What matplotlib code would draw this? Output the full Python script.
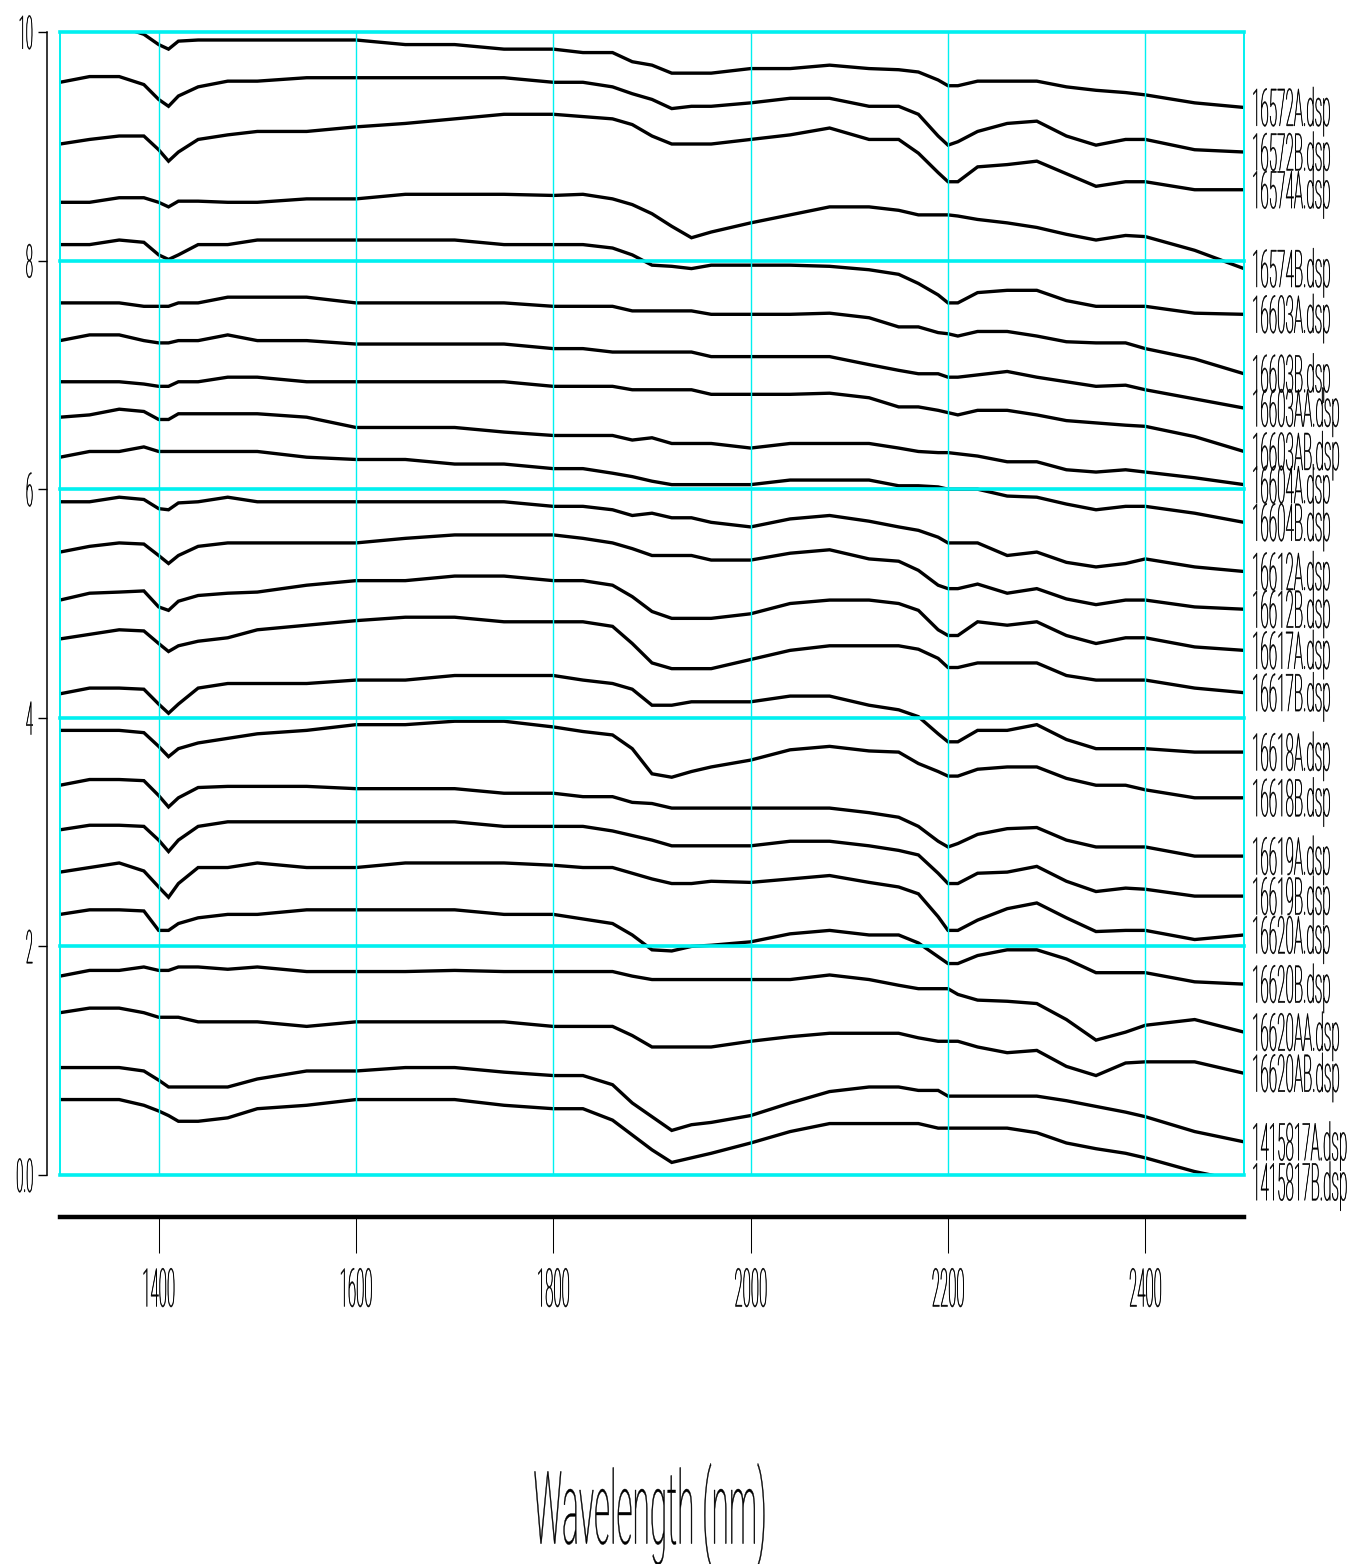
import matplotlib
matplotlib.use('Agg')
import matplotlib.pyplot as plt
from matplotlib import patheffects
from matplotlib.transforms import Affine2D

# wavelength grid (nm) the spectra were read at
wavelength = [1300, 1330, 1360, 1385, 1400, 1410, 1420, 1440, 1470, 1500,
              1550, 1600, 1650, 1700, 1750, 1800, 1830, 1860, 1880, 1900,
              1920, 1940, 1960, 2000, 2040, 2080, 2120, 2150, 2170, 2190,
              2200, 2210, 2230, 2260, 2290, 2320, 2350, 2380, 2400, 2450, 2500]

# offset reflectance spectra, top to bottom
s16572A = [10.06, 10.07, 10.05, 9.98, 9.89, 9.85, 9.92, 9.93, 9.93, 9.93, 9.93, 9.93, 9.89, 9.89, 9.85, 9.85, 9.82, 9.82, 9.74, 9.71, 9.64, 9.64, 9.64, 9.68, 9.68, 9.71, 9.68, 9.67, 9.65, 9.58, 9.53, 9.53, 9.57, 9.57, 9.57, 9.52, 9.49, 9.47, 9.45, 9.38, 9.34]
s16572B = [9.56, 9.61, 9.61, 9.54, 9.41, 9.35, 9.44, 9.52, 9.57, 9.57, 9.60, 9.60, 9.60, 9.60, 9.60, 9.56, 9.56, 9.52, 9.46, 9.41, 9.33, 9.35, 9.35, 9.38, 9.42, 9.42, 9.35, 9.35, 9.28, 9.09, 9.01, 9.04, 9.13, 9.20, 9.22, 9.09, 9.01, 9.06, 9.06, 8.97, 8.95]
s16574A = [9.02, 9.06, 9.09, 9.09, 8.97, 8.87, 8.95, 9.06, 9.10, 9.13, 9.13, 9.17, 9.20, 9.24, 9.28, 9.28, 9.26, 9.24, 9.19, 9.09, 9.02, 9.02, 9.02, 9.06, 9.10, 9.16, 9.06, 9.06, 8.94, 8.77, 8.69, 8.69, 8.82, 8.84, 8.87, 8.76, 8.65, 8.69, 8.69, 8.62, 8.62]
s16574B = [8.51, 8.51, 8.55, 8.55, 8.51, 8.47, 8.52, 8.52, 8.51, 8.51, 8.54, 8.54, 8.58, 8.58, 8.58, 8.57, 8.58, 8.54, 8.49, 8.41, 8.30, 8.20, 8.25, 8.33, 8.40, 8.47, 8.47, 8.44, 8.40, 8.40, 8.40, 8.39, 8.36, 8.33, 8.29, 8.23, 8.18, 8.22, 8.21, 8.09, 7.93]
s16603A = [8.14, 8.14, 8.18, 8.16, 8.05, 8.01, 8.05, 8.14, 8.14, 8.18, 8.18, 8.18, 8.18, 8.18, 8.14, 8.14, 8.14, 8.11, 8.05, 7.96, 7.95, 7.93, 7.96, 7.96, 7.96, 7.95, 7.92, 7.88, 7.80, 7.70, 7.63, 7.63, 7.72, 7.74, 7.74, 7.65, 7.60, 7.60, 7.60, 7.54, 7.53]
s16603B = [7.63, 7.63, 7.63, 7.60, 7.60, 7.60, 7.63, 7.63, 7.68, 7.68, 7.68, 7.63, 7.63, 7.63, 7.63, 7.60, 7.60, 7.60, 7.56, 7.56, 7.56, 7.56, 7.53, 7.53, 7.53, 7.54, 7.50, 7.42, 7.42, 7.37, 7.36, 7.34, 7.38, 7.38, 7.34, 7.29, 7.28, 7.28, 7.23, 7.14, 7.01]
s16603AA = [7.30, 7.35, 7.35, 7.30, 7.28, 7.28, 7.30, 7.30, 7.35, 7.30, 7.30, 7.27, 7.27, 7.27, 7.27, 7.23, 7.23, 7.20, 7.20, 7.20, 7.20, 7.20, 7.16, 7.16, 7.16, 7.16, 7.09, 7.04, 7.01, 7.01, 6.98, 6.98, 7.00, 7.03, 6.98, 6.94, 6.90, 6.91, 6.87, 6.79, 6.71]
s16603AB = [6.94, 6.94, 6.94, 6.92, 6.90, 6.90, 6.94, 6.94, 6.98, 6.98, 6.94, 6.94, 6.94, 6.94, 6.94, 6.90, 6.90, 6.90, 6.87, 6.87, 6.87, 6.87, 6.83, 6.83, 6.83, 6.84, 6.80, 6.72, 6.72, 6.69, 6.67, 6.65, 6.69, 6.69, 6.65, 6.60, 6.58, 6.56, 6.55, 6.46, 6.33]
s16604A = [6.63, 6.65, 6.70, 6.68, 6.61, 6.61, 6.66, 6.66, 6.66, 6.66, 6.63, 6.54, 6.54, 6.54, 6.50, 6.47, 6.47, 6.47, 6.43, 6.45, 6.40, 6.40, 6.40, 6.36, 6.40, 6.40, 6.40, 6.36, 6.33, 6.32, 6.32, 6.31, 6.29, 6.24, 6.24, 6.17, 6.15, 6.17, 6.15, 6.10, 6.04]
s16604B = [6.28, 6.33, 6.33, 6.37, 6.33, 6.33, 6.33, 6.33, 6.33, 6.33, 6.28, 6.26, 6.26, 6.22, 6.22, 6.18, 6.18, 6.14, 6.11, 6.07, 6.04, 6.04, 6.04, 6.04, 6.08, 6.08, 6.08, 6.03, 6.03, 6.02, 6.00, 6.00, 6.00, 5.94, 5.93, 5.87, 5.82, 5.85, 5.85, 5.79, 5.71]
s16612A = [5.89, 5.89, 5.93, 5.91, 5.83, 5.82, 5.88, 5.89, 5.93, 5.89, 5.89, 5.89, 5.89, 5.89, 5.89, 5.85, 5.85, 5.82, 5.77, 5.79, 5.75, 5.75, 5.71, 5.67, 5.74, 5.77, 5.72, 5.67, 5.64, 5.58, 5.53, 5.53, 5.53, 5.42, 5.45, 5.36, 5.32, 5.35, 5.39, 5.32, 5.28]
s16612B = [5.45, 5.50, 5.53, 5.52, 5.42, 5.35, 5.42, 5.50, 5.53, 5.53, 5.53, 5.53, 5.57, 5.60, 5.60, 5.60, 5.57, 5.53, 5.48, 5.42, 5.42, 5.42, 5.38, 5.38, 5.44, 5.47, 5.39, 5.37, 5.29, 5.16, 5.13, 5.13, 5.17, 5.09, 5.13, 5.04, 4.99, 5.03, 5.03, 4.97, 4.95]
s16617A = [5.03, 5.09, 5.10, 5.11, 4.97, 4.94, 5.02, 5.07, 5.09, 5.10, 5.16, 5.20, 5.20, 5.24, 5.24, 5.20, 5.20, 5.16, 5.06, 4.93, 4.87, 4.87, 4.87, 4.91, 5.00, 5.03, 5.03, 5.00, 4.94, 4.77, 4.72, 4.72, 4.84, 4.81, 4.84, 4.72, 4.65, 4.70, 4.70, 4.62, 4.59]
s16617B = [4.69, 4.73, 4.77, 4.76, 4.65, 4.58, 4.63, 4.67, 4.70, 4.77, 4.81, 4.85, 4.88, 4.88, 4.84, 4.84, 4.84, 4.80, 4.65, 4.48, 4.43, 4.43, 4.43, 4.51, 4.59, 4.63, 4.63, 4.63, 4.60, 4.52, 4.44, 4.44, 4.48, 4.48, 4.48, 4.37, 4.33, 4.33, 4.33, 4.26, 4.22]
s16618A = [4.21, 4.26, 4.26, 4.25, 4.12, 4.04, 4.12, 4.26, 4.30, 4.30, 4.30, 4.33, 4.33, 4.37, 4.37, 4.37, 4.33, 4.30, 4.25, 4.11, 4.11, 4.14, 4.14, 4.14, 4.19, 4.19, 4.11, 4.07, 4.01, 3.86, 3.79, 3.79, 3.89, 3.89, 3.94, 3.81, 3.73, 3.73, 3.73, 3.70, 3.70]
s16618B = [3.89, 3.89, 3.89, 3.87, 3.75, 3.66, 3.73, 3.78, 3.82, 3.86, 3.89, 3.94, 3.94, 3.97, 3.97, 3.92, 3.88, 3.85, 3.73, 3.51, 3.48, 3.53, 3.57, 3.63, 3.72, 3.75, 3.71, 3.70, 3.60, 3.53, 3.49, 3.49, 3.55, 3.57, 3.57, 3.47, 3.41, 3.41, 3.37, 3.30, 3.30]
s16619A = [3.41, 3.46, 3.46, 3.45, 3.32, 3.22, 3.30, 3.39, 3.40, 3.40, 3.40, 3.38, 3.38, 3.38, 3.34, 3.34, 3.31, 3.31, 3.26, 3.25, 3.21, 3.21, 3.21, 3.21, 3.21, 3.21, 3.17, 3.13, 3.05, 2.92, 2.87, 2.90, 2.98, 3.03, 3.04, 2.93, 2.87, 2.87, 2.87, 2.79, 2.79]
s16619B = [3.02, 3.06, 3.06, 3.05, 2.93, 2.83, 2.93, 3.05, 3.09, 3.09, 3.09, 3.09, 3.09, 3.09, 3.05, 3.05, 3.05, 3.01, 2.97, 2.93, 2.88, 2.88, 2.88, 2.88, 2.92, 2.92, 2.88, 2.84, 2.80, 2.64, 2.55, 2.55, 2.64, 2.65, 2.70, 2.57, 2.48, 2.51, 2.50, 2.44, 2.44]
s16620A = [2.65, 2.69, 2.73, 2.66, 2.52, 2.43, 2.55, 2.69, 2.69, 2.73, 2.69, 2.69, 2.73, 2.73, 2.73, 2.71, 2.69, 2.69, 2.64, 2.59, 2.55, 2.55, 2.57, 2.56, 2.59, 2.62, 2.56, 2.52, 2.46, 2.26, 2.14, 2.14, 2.23, 2.33, 2.38, 2.25, 2.13, 2.14, 2.14, 2.06, 2.10]
s16620B = [2.28, 2.32, 2.32, 2.31, 2.14, 2.14, 2.20, 2.25, 2.28, 2.28, 2.32, 2.32, 2.32, 2.32, 2.28, 2.28, 2.24, 2.20, 2.10, 1.97, 1.96, 2.00, 2.01, 2.04, 2.11, 2.14, 2.10, 2.10, 2.03, 1.91, 1.85, 1.85, 1.92, 1.97, 1.97, 1.89, 1.77, 1.77, 1.77, 1.69, 1.67]
s16620AA = [1.74, 1.79, 1.79, 1.82, 1.79, 1.79, 1.82, 1.82, 1.80, 1.82, 1.78, 1.78, 1.78, 1.79, 1.78, 1.78, 1.78, 1.78, 1.74, 1.71, 1.71, 1.71, 1.71, 1.71, 1.71, 1.75, 1.71, 1.66, 1.63, 1.63, 1.63, 1.58, 1.53, 1.52, 1.50, 1.36, 1.18, 1.25, 1.31, 1.36, 1.25]
s16620AB = [1.42, 1.46, 1.46, 1.42, 1.38, 1.38, 1.38, 1.34, 1.34, 1.34, 1.30, 1.34, 1.34, 1.34, 1.34, 1.30, 1.30, 1.30, 1.22, 1.12, 1.12, 1.12, 1.12, 1.17, 1.21, 1.24, 1.24, 1.24, 1.20, 1.17, 1.17, 1.17, 1.12, 1.07, 1.09, 0.95, 0.87, 0.98, 0.99, 0.99, 0.89]
s1415817A = [0.94, 0.94, 0.94, 0.91, 0.83, 0.77, 0.77, 0.77, 0.77, 0.84, 0.91, 0.91, 0.94, 0.94, 0.90, 0.87, 0.87, 0.79, 0.63, 0.51, 0.39, 0.44, 0.46, 0.52, 0.63, 0.73, 0.77, 0.77, 0.74, 0.74, 0.69, 0.69, 0.69, 0.69, 0.69, 0.65, 0.60, 0.55, 0.51, 0.38, 0.29]
s1415817B = [0.66, 0.66, 0.66, 0.61, 0.56, 0.52, 0.47, 0.47, 0.50, 0.58, 0.61, 0.66, 0.66, 0.66, 0.61, 0.58, 0.58, 0.48, 0.35, 0.22, 0.11, 0.15, 0.19, 0.28, 0.38, 0.45, 0.45, 0.45, 0.45, 0.41, 0.41, 0.41, 0.41, 0.41, 0.37, 0.28, 0.23, 0.19, 0.15, 0.03, -0.06]

names = ['16572A.dsp', '16572B.dsp', '16574A.dsp', '16574B.dsp', '16603A.dsp',
         '16603B.dsp', '16603AA.dsp', '16603AB.dsp', '16604A.dsp', '16604B.dsp',
         '16612A.dsp', '16612B.dsp', '16617A.dsp', '16617B.dsp', '16618A.dsp',
         '16618B.dsp', '16619A.dsp', '16619B.dsp', '16620A.dsp', '16620B.dsp',
         '16620AA.dsp', '16620AB.dsp', '1415817A.dsp', '1415817B.dsp']
spectra = [s16572A, s16572B, s16574A, s16574B, s16603A, s16603B, s16603AA,
           s16603AB, s16604A, s16604B, s16612A, s16612B, s16617A, s16617B,
           s16618A, s16618B, s16619A, s16619B, s16620A, s16620B, s16620AA,
           s16620AB, s1415817A, s1415817B]

xticks = [1400, 1600, 1800, 2000, 2200, 2400]
yticks = [0, 2, 4, 6, 8, 10]
ytick_labels = ['0.0', '2', '4', '6', '8', '10']

FONT = 'Roboto'


class Tall(patheffects.AbstractPathEffect):
    # stretch glyphs vertically about mid cap height, add a thin outline
    # (the old plot had tall, squeezed lettering)
    def __init__(self, sy=3.55, stroke=0.35):
        super().__init__()
        self.sy = sy
        self.stroke = stroke

    def draw_path(self, renderer, gc, tpath, affine, rgbFace=None):
        t = Affine2D().translate(0, -35.5).scale(1, self.sy).translate(0, 35.5) + affine
        gc0 = renderer.new_gc()
        gc0.copy_properties(gc)
        gc0.set_linewidth(self.stroke)
        gc0.set_foreground(rgbFace)
        renderer.draw_path(gc0, tpath, t, rgbFace)
        gc0.restore()


fig = plt.figure(figsize=(13.47, 15.64), dpi=100)
ax = fig.add_axes([60 / 1347, 1 - 1175 / 1564, 1184 / 1347, 1143 / 1564])

for y in spectra:
    ax.plot(wavelength, y, color='black', lw=2.4, zorder=2, solid_joinstyle='miter')

# cyan grid on top of the spectra
for yv in yticks:
    ax.axhline(yv, color='#00f0f0', lw=2.6, zorder=3, clip_on=False)
for xv in xticks:
    ax.axvline(xv, color='#00f0f0', lw=1.0, zorder=3)
for xv in [1300, 2500]:
    ax.axvline(xv, color='#00f0f0', lw=1.4, zorder=3, clip_on=False)

ax.set_xlim(1300, 2500)
ax.set_ylim(0, 10)

for side in ['top', 'right']:
    ax.spines[side].set_visible(False)
ax.spines['left'].set_position(('outward', 9.4))
ax.spines['left'].set_linewidth(1.1)
ax.spines['bottom'].set_position(('outward', 30))
ax.spines['bottom'].set_linewidth(3.2)

ax.set_xticks(xticks)
ax.set_yticks(yticks)
ax.set_yticklabels(ytick_labels)
ax.tick_params(axis='x', direction='out', length=26, width=0.75, pad=21,
               labelsize=10.8)
ax.tick_params(axis='y', direction='out', length=6.5, width=1.0, pad=3.6,
               labelsize=9.4)

for lab in ax.get_xticklabels() + ax.get_yticklabels():
    lab.set_fontfamily(FONT)
    lab.set_fontweight('light')
    lab.set_path_effects([Tall()])

# sample names at the right end of each spectrum
for name, y in zip(names, spectra):
    ax.annotate(name, xy=(1, y[-1]), xycoords=('axes fraction', 'data'),
                xytext=(5.8, -3.9), textcoords='offset points',
                ha='left', va='baseline', fontsize=11, family=FONT,
                weight='light', annotation_clip=False,
                path_effects=[Tall(sy=3.4)])

fig.text(650 / 1347, 1 - 1518.8 / 1564, 'Wavelength (nm)', ha='center',
         va='baseline', fontsize=22.8, family=FONT, weight='light',
         path_effects=[Tall(sy=3.2, stroke=0.3)])

fig.savefig('out.png', dpi=100)
